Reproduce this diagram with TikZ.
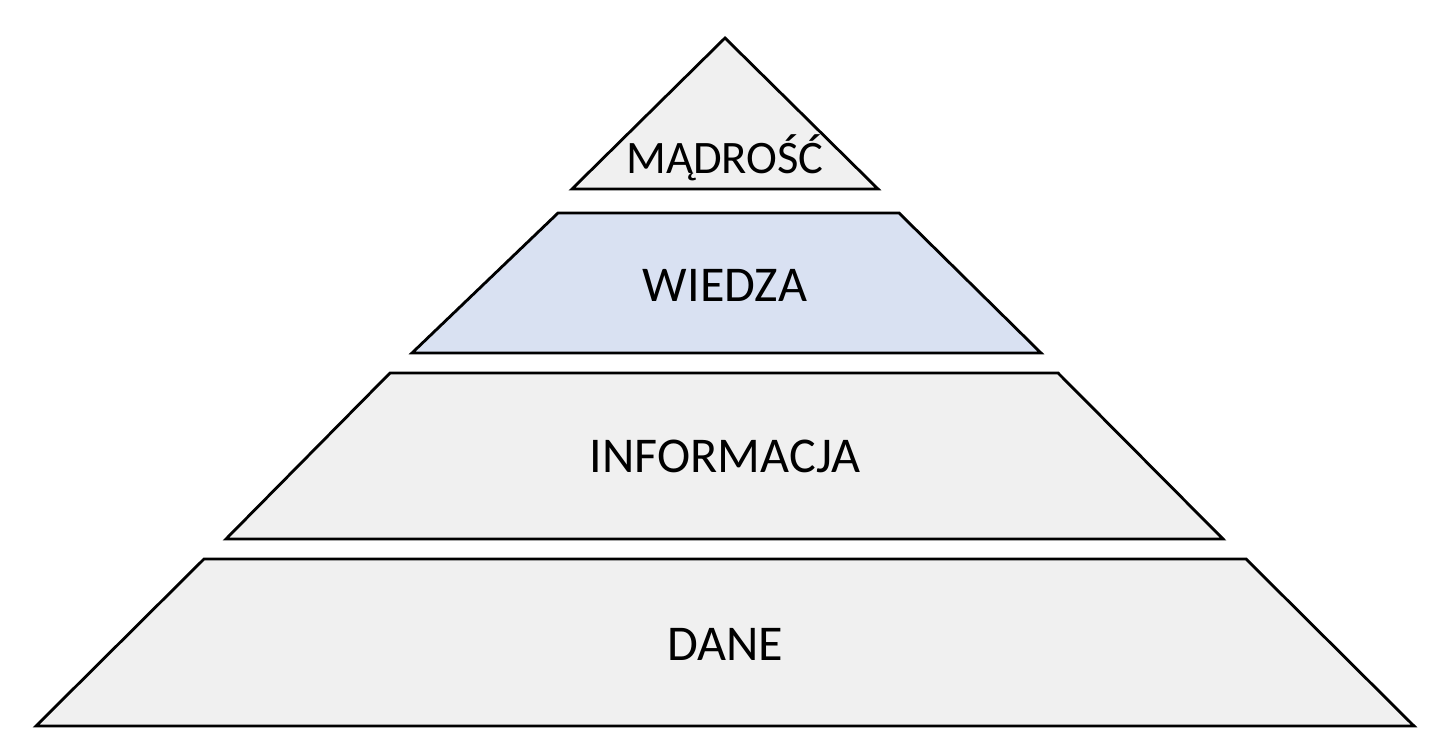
\documentclass[tikz,border=0pt]{standalone}
\usepackage{fontspec}
\setmainfont{Carlito}
\begin{document}
\begin{tikzpicture}[x=0.02cm,y=-0.02cm,
  lvl/.style={draw=black,line width=1.6pt,line join=miter},
  lab/.style={font=\fontsize{28.5}{32}\selectfont,inner sep=0pt}]
\useasboundingbox (0,0) rectangle (1452,736);
\fill[white] (0,0) rectangle (1452,736);
\draw[lvl,fill=gray!12] (725,38) -- (878,189) -- (572,189) -- cycle;
\draw[lvl,fill={rgb,255:red,217;green,225;blue,242}] (558,213) -- (899,213) -- (1041,353) -- (412,353) -- cycle;
\draw[lvl,fill=gray!12] (390,373) -- (1058,373) -- (1223,539) -- (226,539) -- cycle;
\draw[lvl,fill=gray!12] (204,559) -- (1246,559) -- (1414,726) -- (36,726) -- cycle;
\node[lab,font=\fontsize{26.5}{30}\selectfont] (m) at (725,158) {MĄDROŚĆ};
\node[lab] (w) at (725,285) {WIEDZA};
\node[lab] (i) at (725,456) {INFORMACJA};
\node[lab] (d) at (725,644) {DANE};
\end{tikzpicture}
\end{document}
